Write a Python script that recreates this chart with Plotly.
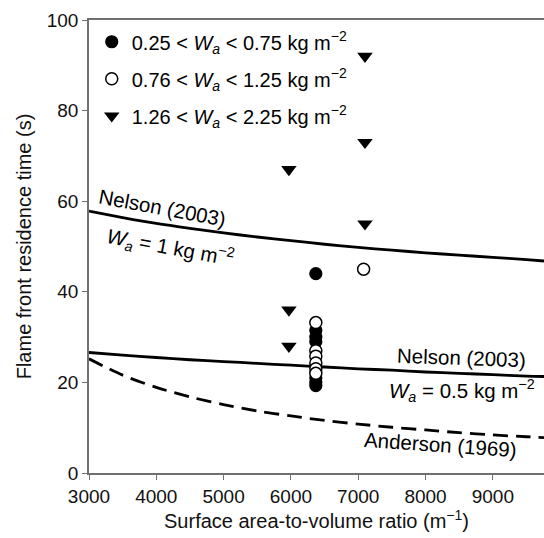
import plotly.graph_objects as go

# Model curves: surface area-to-volume ratio (m^-1) vs residence time (s)
curve_x = [3000, 3500, 4000, 4500, 5000, 5500, 6000, 6500, 7000, 7500, 8000, 8500, 9000, 9500, 9760]
nelson_w1 = [57.8, 56.4, 55.1, 54.0, 53.0, 52.1, 51.3, 50.5, 49.8, 49.2, 48.6, 48.1, 47.6, 47.1, 46.8]
nelson_w05 = [26.6, 26.0, 25.5, 25.0, 24.6, 24.2, 23.8, 23.4, 23.0, 22.7, 22.3, 22.0, 21.7, 21.4, 21.3]
anderson = [25.2, 21.6, 18.9, 16.8, 15.1, 13.7, 12.6, 11.6, 10.8, 10.1, 9.5, 8.9, 8.4, 8.0, 7.8]

# Observations grouped by fuel loading class
low_x = [6370, 6370, 6370, 6370, 6370, 6370, 6370]
low_y = [44, 31.5, 30, 29, 21, 20, 19.3]
mid_x = [6370, 6370, 6370, 6370, 6370, 6370, 7080]
mid_y = [33.2, 27, 25.8, 24.3, 23, 22, 45]
high_x = [5970, 5970, 5970, 7100, 7100, 7100]
high_y = [67, 36, 28, 92, 73, 55]

x_ticks = [3000, 4000, 5000, 6000, 7000, 8000, 9000]
y_ticks = [0, 20, 40, 60, 80, 100]

FONT = "Liberation Sans, Arial, Helvetica, sans-serif"
W = "<i>W</i><sub><i>a</i></sub>"

fig = go.Figure()

for ys, dash in [(nelson_w1, "solid"), (nelson_w05, "solid"), (anderson, "15px,8px")]:
    fig.add_trace(go.Scatter(x=curve_x, y=ys, mode="lines", showlegend=False,
                             line=dict(color="black", width=2.8, dash=dash,
                                       shape="spline", smoothing=0.8),
                             hoverinfo="skip"))

fig.add_trace(go.Scatter(
    x=high_x, y=high_y, mode="markers", legendgroup="c", legendrank=3,
    name=f"1.26 &lt; {W} &lt; 2.25 kg m<sup>−2</sup>",
    marker=dict(symbol="triangle-down", size=13.5, color="black",
                line=dict(color="black", width=0))))
fig.add_trace(go.Scatter(
    x=low_x, y=low_y, mode="markers", legendgroup="a", legendrank=1,
    name=f"0.25 &lt; {W} &lt; 0.75 kg m<sup>−2</sup>",
    marker=dict(symbol="circle", size=12, color="black",
                line=dict(color="black", width=1.2))))
fig.add_trace(go.Scatter(
    x=mid_x, y=mid_y, mode="markers", legendgroup="b", legendrank=2,
    name=f"0.76 &lt; {W} &lt; 1.25 kg m<sup>−2</sup>",
    marker=dict(symbol="circle", size=12, color="white",
                line=dict(color="black", width=1.5))))

annots = [
    (4085, 58.7, "Nelson (2003)", 10.5),
    (4218, 49.7, f"{W} = 1 kg m<sup>−2</sup>", 10.5),
    (8527, 25.4, "Nelson (2003)", 2),
    (8542, 18.3, f"{W} = 0.5 kg m<sup>−2</sup>", 0),
    (8215, 6.3, "Anderson (1969)", 4),
]
for ax_, ay_, txt, ang in annots:
    fig.add_annotation(x=ax_, y=ay_, text=txt, showarrow=False, textangle=ang,
                       font=dict(family=FONT, size=20.5, color="black"),
                       xanchor="center", yanchor="middle")

axis_common = dict(showgrid=False, zeroline=False, showline=True, linecolor="#707070",
                   linewidth=1.5, ticks="outside", ticklen=5, tickcolor="#707070",
                   tickwidth=1.2, tickfont=dict(family=FONT, size=19, color="#111"))

fig.update_layout(
    width=544, height=538,
    margin=dict(l=89, r=0, t=20, b=65),
    paper_bgcolor="white", plot_bgcolor="white",
    font=dict(family=FONT, color="#111"),
    xaxis=dict(range=[3000, 9760], tickvals=x_ticks, mirror=True,
               title=dict(text="Surface area-to-volume ratio (m<sup>−1</sup>)",
                          font=dict(family=FONT, size=20), standoff=8),
               **axis_common),
    yaxis=dict(range=[0, 100], tickvals=y_ticks,
               title=dict(text="Flame front residence time (s)",
                          font=dict(family=FONT, size=20), standoff=10),
               **axis_common),
    legend=dict(x=0.006, y=0.995, xanchor="left", yanchor="top",
                bgcolor="rgba(0,0,0,0)", traceorder="grouped", tracegroupgap=8,
                font=dict(family=FONT, size=20, color="black"), itemwidth=30),
)

fig.write_html("out.html")
